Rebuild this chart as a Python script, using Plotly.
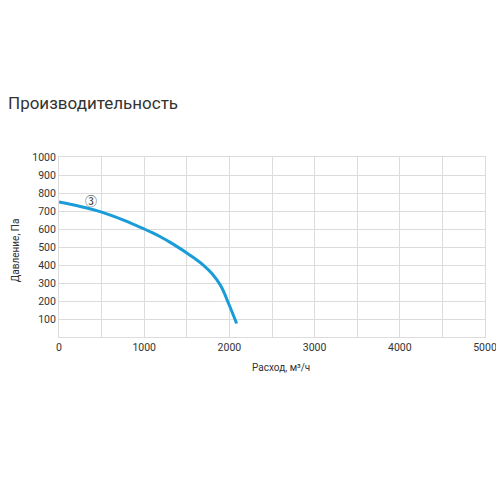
import plotly.graph_objects as go

# данные кривой (расход, м3/ч -> давление, Па)
flow = [0, 250, 500, 750, 1000, 1100, 1200, 1300, 1400, 1500, 1600, 1700,
        1800, 1900, 2000, 2085]
pressure = [750, 725, 694, 651, 600, 578, 554, 527, 498, 467, 434, 397,
            350, 283, 175, 75]

x_ticks = [0, 1000, 2000, 3000, 4000, 5000]
y_ticks = [100, 200, 300, 400, 500, 600, 700, 800, 900, 1000]

font_name = "Roboto"
text_color = "#333333"
grid_color = "#dcdcdc"

fig = go.Figure()
fig.add_trace(go.Scatter(
    x=flow, y=pressure, mode="lines",
    line=dict(color="#1a9cd8", width=3, shape="spline", smoothing=1.0),
    showlegend=False, hoverinfo="skip",
))

# номер кривой
fig.add_annotation(x=370, y=758, text="③", showarrow=False,
                   font=dict(family="Noto Sans CJK SC", size=12, color=text_color))

# заголовок и подписи осей
fig.add_annotation(xref="paper", yref="paper", x=-0.125, y=1.30,
                   xanchor="left", yanchor="middle",
                   text="Производительность", showarrow=False,
                   font=dict(family=font_name, size=17, color=text_color))
fig.add_annotation(xref="paper", yref="paper", x=0.521, y=-0.172,
                   xanchor="center", yanchor="middle",
                   text="Расход, м³/ч", showarrow=False,
                   font=dict(family=font_name, size=10, color=text_color))
fig.add_annotation(xref="paper", yref="paper", x=-0.103, y=0.483,
                   xanchor="center", yanchor="middle", textangle=-90,
                   text="Давление, Па", showarrow=False,
                   font=dict(family=font_name, size=10, color=text_color))

fig.update_xaxes(
    range=[0, 5000], tickvals=x_ticks, ticktext=[str(v) for v in x_ticks],
    showgrid=True, gridcolor=grid_color, gridwidth=1,
    minor=dict(dtick=500, showgrid=True, gridcolor=grid_color, gridwidth=1),
    showline=True, linecolor=grid_color, mirror=True,
    zeroline=False, ticks="", ticklen=0,
    tickfont=dict(family=font_name, size=10.5, color=text_color),
)
fig.update_yaxes(
    range=[0, 1000], tickvals=y_ticks, ticktext=[str(v) for v in y_ticks],
    showgrid=True, gridcolor=grid_color, gridwidth=1,
    showline=True, linecolor=grid_color, mirror=True,
    zeroline=False, ticks="",
    tickfont=dict(family=font_name, size=10.5, color=text_color),
)

fig.update_layout(
    width=504, height=504,
    margin=dict(l=51, r=27, t=149, b=175),
    paper_bgcolor="white", plot_bgcolor="white",
)

fig.write_html("out.html")
